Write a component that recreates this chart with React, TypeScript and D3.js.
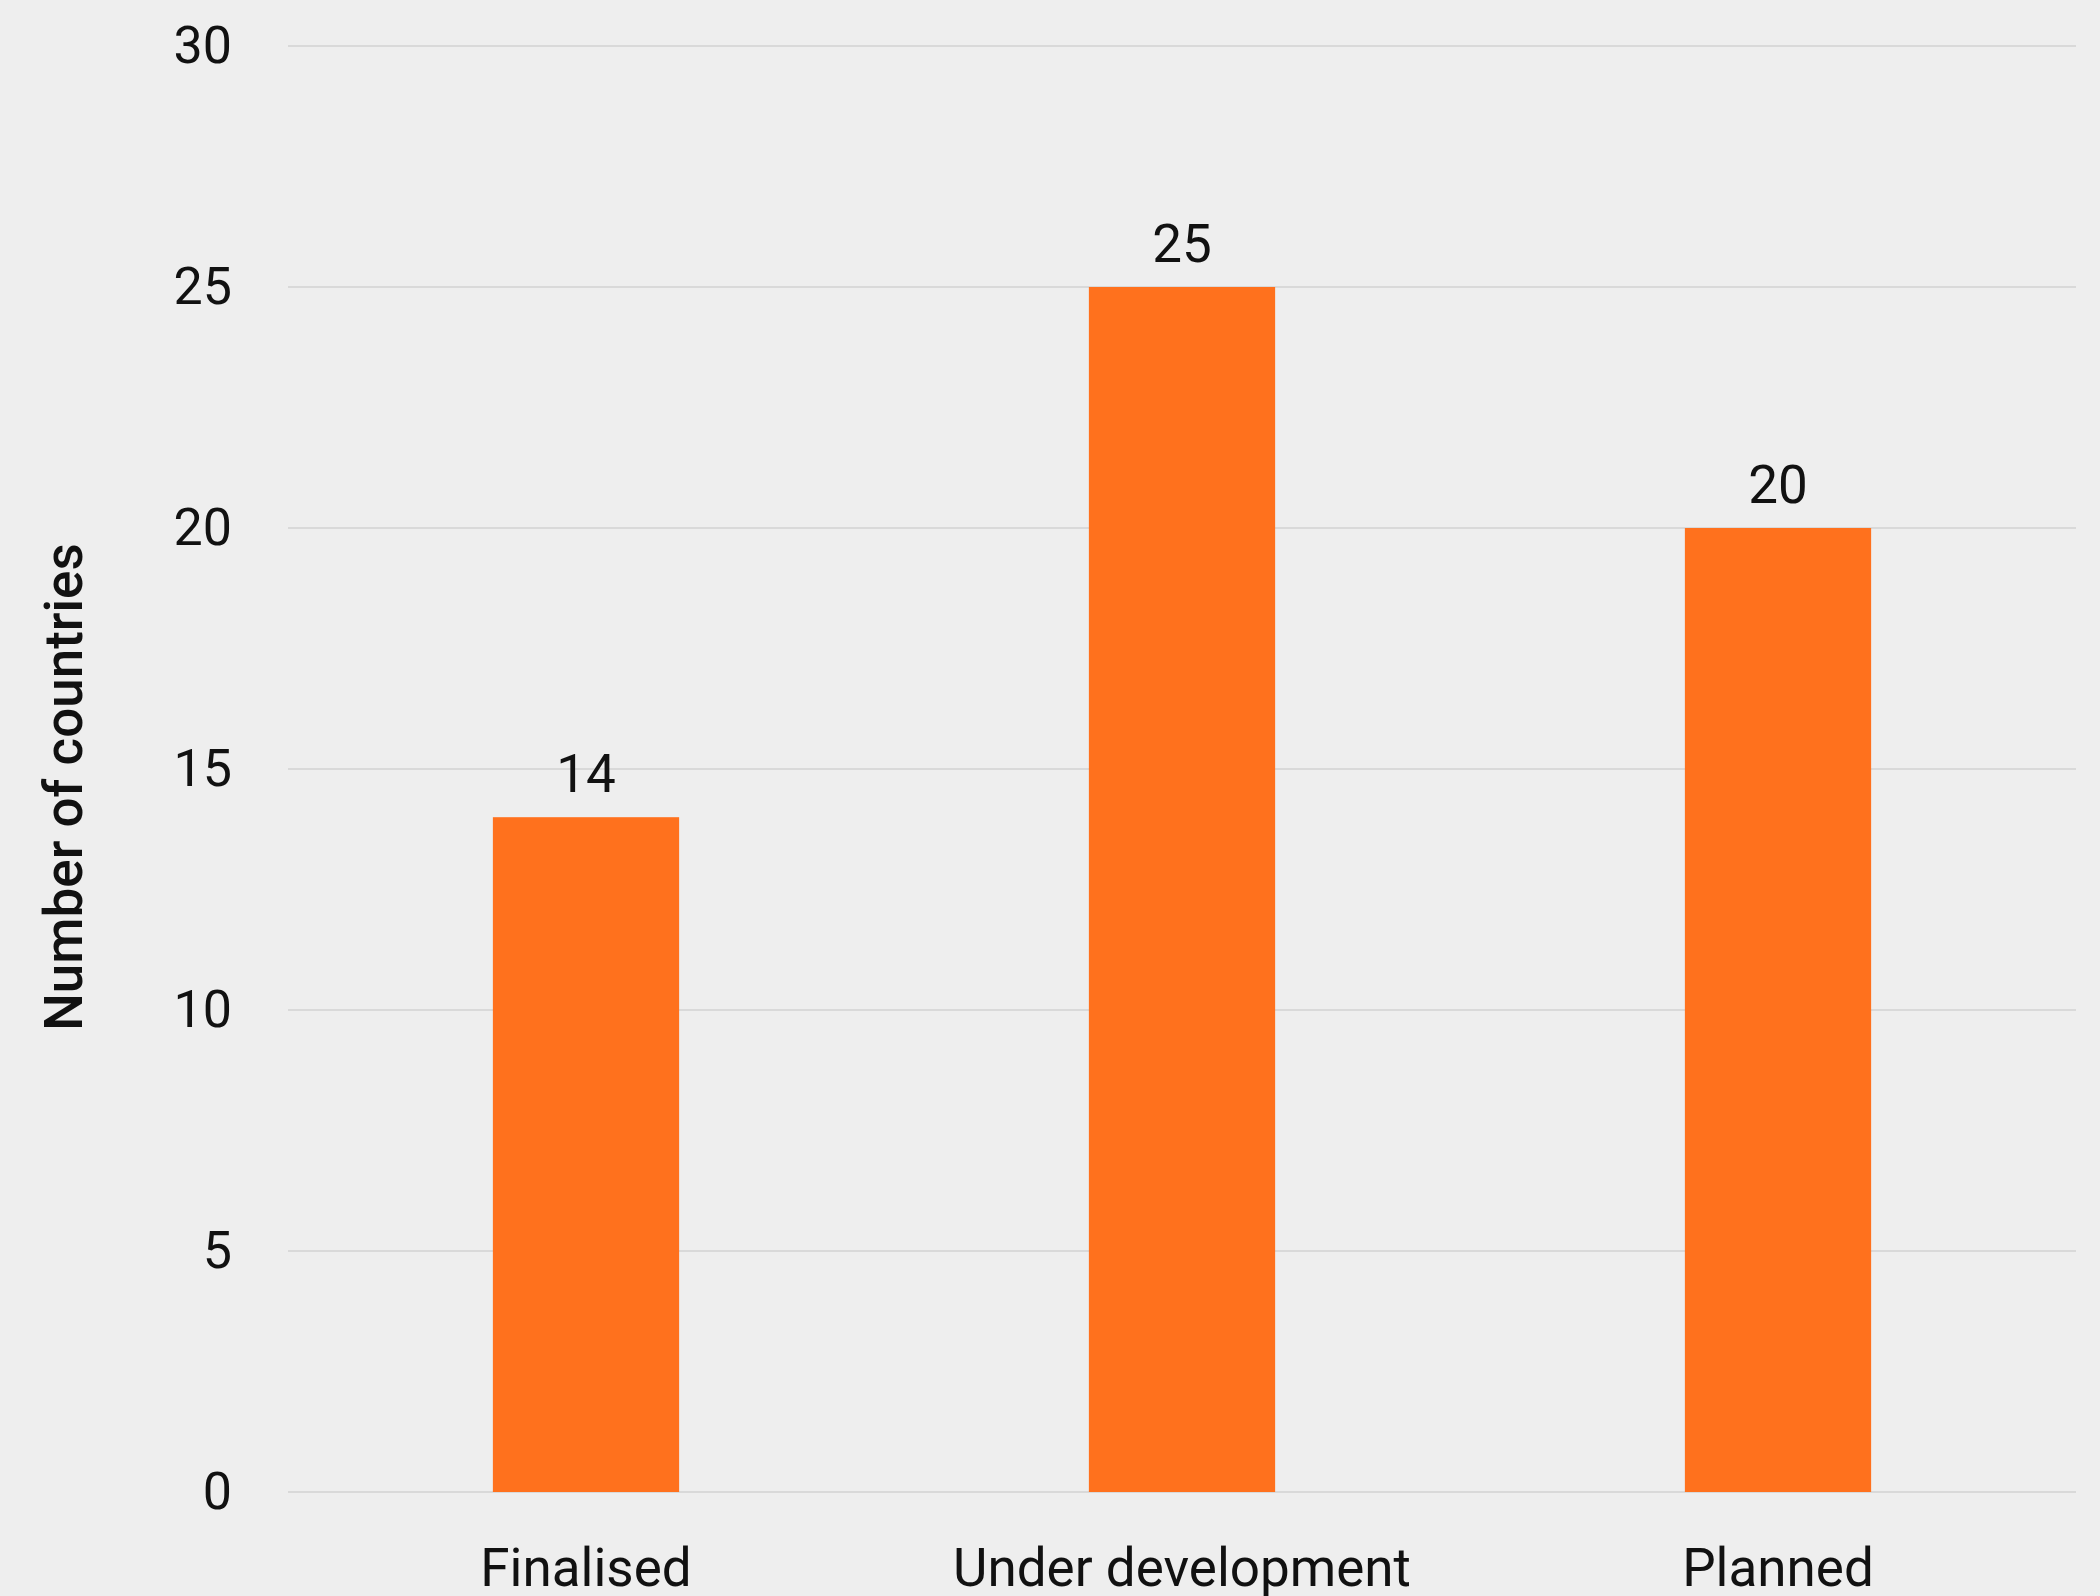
import React from "react";
import * as d3 from "d3";

const categories = ["Finalised", "Under development", "Planned"];
const values = [14, 25, 20];
const yTicks = [0, 5, 10, 15, 20, 25, 30];
const yTitle = "Number of countries";

const W = 2100;
const H = 1596;
const margin = { left: 288, right: 24, top: 46, bottom: 104 };
const FONT = "Roboto, 'Noto Sans', sans-serif";

export default function App() {
  const x = d3
    .scaleBand<string>()
    .domain(categories)
    .range([margin.left, W - margin.right])
    .paddingInner(0.6875)
    .paddingOuter(0.34375);
  const y = d3
    .scaleLinear()
    .domain([0, 30])
    .range([H - margin.bottom, margin.top]);

  return (
    <div style={{ position: "fixed", left: 0, top: 0, width: W, height: H }}>
      <svg width={W} height={H} style={{ display: "block" }} fontFamily={FONT}>
        <rect x={0} y={0} width={W} height={H} fill="#eeeeee" />
        {yTicks.map((t) => (
          <g key={t}>
            <line
              x1={margin.left}
              x2={W - margin.right}
              y1={y(t)}
              y2={y(t)}
              stroke="#d9d9d9"
              strokeWidth={2}
            />
            <text
              x={232}
              y={y(t)}
              dy="0.33em"
              textAnchor="end"
              fontSize={52}
              fill="#111"
            >
              {t}
            </text>
          </g>
        ))}
        {categories.map((c, i) => (
          <g key={c}>
            <rect
              x={x(c)}
              y={y(values[i])}
              width={x.bandwidth()}
              height={y(0) - y(values[i])}
              fill="#ff711d"
            />
            <text
              x={(x(c) as number) + x.bandwidth() / 2}
              y={y(values[i]) - 25}
              textAnchor="middle"
              fontSize={53}
              fill="#111"
            >
              {values[i]}
            </text>
            <text
              x={(x(c) as number) + x.bandwidth() / 2}
              y={1586}
              textAnchor="middle"
              fontSize={53}
              fill="#111"
            >
              {c}
            </text>
          </g>
        ))}
        <text
          transform={`translate(82, ${(y(0) + y(30)) / 2 + 18}) rotate(-90)`}
          textAnchor="middle"
          fontSize={53}
          fontWeight={500}
          fill="#111"
        >
          {yTitle}
        </text>
      </svg>
    </div>
  );
}
